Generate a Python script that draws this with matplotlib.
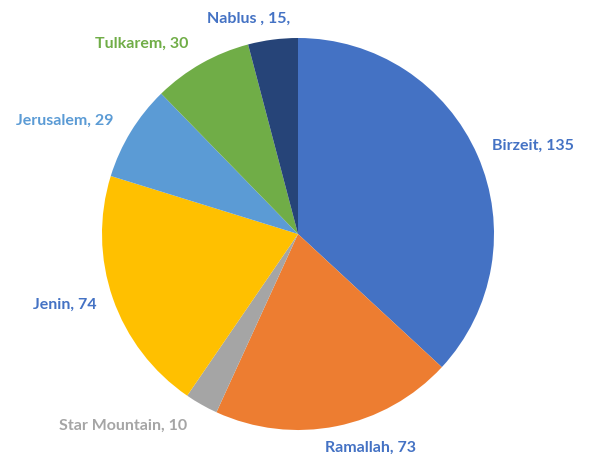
import matplotlib
matplotlib.use("Agg")
import matplotlib.pyplot as plt

# slices, clockwise from 12 o'clock
cities = ["Birzeit", "Ramallah", "Star Mountain", "Jenin", "Jerusalem", "Tulkarem", "Nablus"]
counts = [135, 73, 10, 74, 29, 30, 15]
label_text = ["Birzeit, 135", "Ramallah, 73", "Star Mountain, 10", "Jenin, 74",
              "Jerusalem, 29", "Tulkarem, 30", "Nablus , 15,"]

colors = ["#4472C4", "#ED7D31", "#A5A5A5", "#FFC000", "#5B9BD5", "#70AD47", "#264478"]
label_colors = ["#4472C4", "#4472C4", "#A5A5A5", "#4472C4", "#5B9BD5", "#70AD47", "#4472C4"]
# label centres in radius units (as placed by the original)
label_pos = [(1.20, 0.45), (0.37, -1.09), (-0.895, -0.98), (-1.19, -0.36),
             (-1.19, 0.58), (-0.80, 0.97), (-0.25, 1.10)]

fig = plt.figure(figsize=(5.89, 4.54), dpi=100)
ax = fig.add_axes([102 / 589, 24 / 454, 392 / 589, 392 / 454])

wedges, texts = ax.pie(counts, labels=label_text, colors=colors, startangle=90,
                       counterclock=False, radius=1,
                       wedgeprops=dict(linewidth=0))
for t, c, p in zip(texts, label_colors, label_pos):
    t.set_position(p)
    t.set_ha("center")
    t.set_va("center")
    t.set_color(c)
    t.set_fontsize(11.5)
    t.set_fontweight("bold")
    t.set_family(["Lato", "DejaVu Sans"])

ax.set_xlim(-1, 1)
ax.set_ylim(-1, 1)
ax.set_aspect("equal")
ax.axis("off")

fig.savefig("out.png", dpi=100)
